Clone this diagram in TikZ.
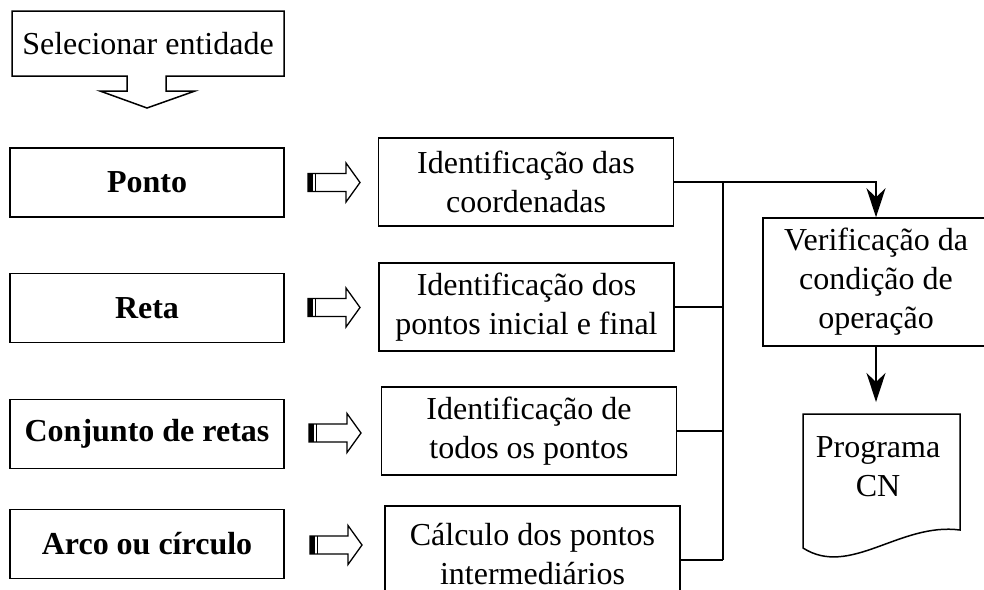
\documentclass[tikz,border=0pt]{standalone}
\usepackage{fontspec}
\setmainfont{Liberation Serif}
\usetikzlibrary{arrows.meta}
\begin{document}
\begin{tikzpicture}[x=1pt,y=-1pt,line width=1.5pt,line join=miter,
  every node/.style={font=\fontsize{32}{39}\selectfont,align=center,inner sep=0pt},
  lbox/.style={draw,minimum width=274pt,minimum height=69pt,font=\fontsize{32}{39}\selectfont\bfseries},
  mbox/.style={draw,minimum width=295pt,minimum height=88pt},
  flowarrow/.style={-{Stealth[length=29pt,width=19pt,inset=9pt]}},
  fatarr/.pic={
    \fill (0,-9) rectangle (5,9);
    \draw[line width=1pt] (7.5,-9) -- (7.5,9);
    \draw[line width=1.3pt] (0,-9) -- (38,-9) -- (38,-19.5) -- (52,0) -- (38,19.5) -- (38,9) -- (0,9) -- cycle;
  }]
\useasboundingbox (0,0) rectangle (984,589);
\clip (0,0) rectangle (984,589);

% select callout
\draw (12,11) -- (284,11) -- (284,76) -- (166,76) -- (166,91) -- (195,91) -- (147,108)
  -- (100,91) -- (127,91) -- (127,76) -- (12,76) -- cycle;
\node (sel) at (148,43.5) {Selecionar entidade};

% left boxes
\node[lbox] (ponto) at (147,182.5) {Ponto};
\node[lbox] (reta) at (147,308) {Reta};
\node[lbox] (conj) at (147,434) {Conjunto de retas};
\node[lbox] (arco) at (147,544) {Arco ou círculo};

% fat arrows
\pic at (308,182.5) {fatarr};
\pic at (308,307.5) {fatarr};
\pic at (309,433) {fatarr};
\pic at (310,545) {fatarr};

% middle boxes
\node[mbox] (b1) at (526,182) {Identificação das\\coordenadas};
\node[mbox] (b2) at (526.5,307) {Identificação dos\\pontos inicial e final};
\node[mbox] (b3) at (529,431) {Identificação de\\todos os pontos};
\node[mbox,minimum height=96pt] (b4) at (532.5,554) {Cálculo dos pontos\\intermediários};
\coordinate (b4c) at (680,560);

% right side
\node[draw,minimum width=226pt,minimum height=128pt] (ver) at (876,282)
  {Verificação da\\condição de\\operação};

% document shape
\draw (803,548) -- (803,414) -- (960,414) -- (960,530)
  .. controls (900,522) and (850,578) .. (803,548) -- cycle;
\node (doc) at (878,467) {Programa\\CN};
\coordinate (doctop) at (876,414);

% bus
\coordinate (bt) at (723,182);
\coordinate (bb) at (723,560);
\draw (bt) -- (bb);
\draw (b2.east) -- (b2.east -| bt);
\draw (b3.east) -- (b3.east -| bt);
\draw (b4c) -- (bb);
\draw[flowarrow] (b1.east) -| (ver.north);
\draw[flowarrow,shorten >=12pt] (ver.south) -- (doctop);
\end{tikzpicture}
\end{document}
